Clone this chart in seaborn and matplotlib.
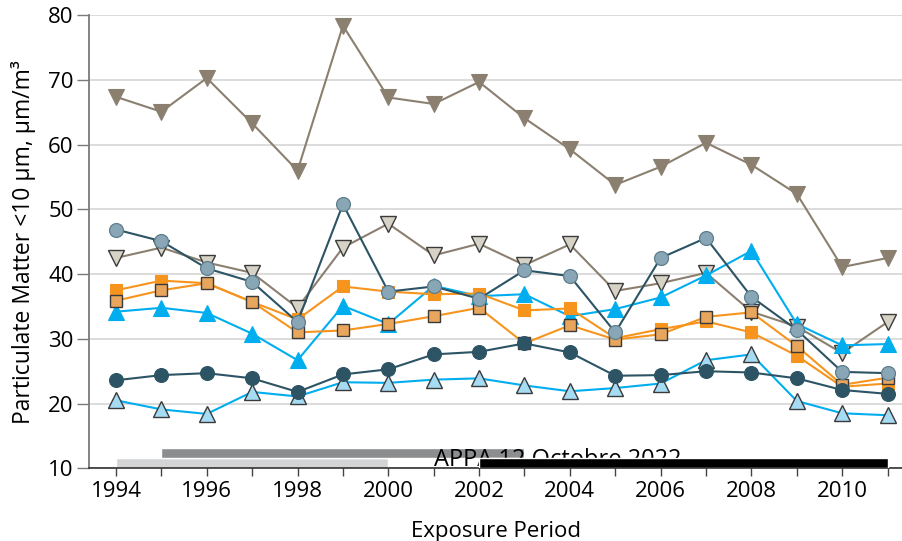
import matplotlib
matplotlib.use("Agg")
import matplotlib.pyplot as plt
import seaborn as sns

# ---- data -------------------------------------------------------------
years = list(range(1994, 2012))

pm_a = [67.4, 65.1, 70.3, 63.3, 56.0, 78.4, 67.3, 66.3, 69.7, 64.1, 59.3, 53.8,
        56.6, 60.3, 56.9, 52.4, 41.1, 42.5]
pm_b = [42.5, 44.1, 41.8, 40.2, 34.8, 44.1, 47.8, 42.9, 44.7, 41.4, 44.6, 37.4,
        38.6, 40.2, 34.2, 31.9, 27.8, 32.6]
pm_c = [46.9, 45.1, 40.9, 38.8, 32.6, 50.8, 37.3, 38.1, 36.2, 40.6, 39.7, 31.0,
        42.5, 45.6, 36.5, 31.4, 24.9, 24.7]
pm_d = [23.6, 24.4, 24.7, 23.9, 21.8, 24.5, 25.3, 27.6, 28.0, 29.3, 27.9, 24.3,
        24.4, 25.0, 24.8, 23.9, 22.1, 21.5]
pm_e = [37.5, 39.0, 38.6, 35.7, 33.0, 38.1, 37.3, 36.9, 37.0, 34.4, 34.7, 30.1,
        31.5, 32.7, 31.0, 27.4, 22.6, 23.1]
pm_f = [35.9, 37.5, 38.6, 35.7, 31.0, 31.3, 32.3, 33.5, 34.8, 29.3, 32.1, 29.9,
        30.7, 33.4, 34.1, 28.9, 22.9, 24.0]
pm_g = [34.2, 34.8, 34.0, 30.8, 26.7, 35.1, 32.3, 38.2, 36.6, 36.9, 33.5, 34.6,
        36.4, 39.8, 43.6, 32.3, 29.0, 29.2]
pm_h = [20.5, 19.1, 18.4, 21.8, 21.1, 23.3, 23.2, 23.7, 23.9, 22.8, 21.9, 22.4,
        23.1, 26.7, 27.6, 20.4, 18.5, 18.2]

# exposure windows shown along the bottom of the plot: (start, end)
window_light = (1994, 2000)
window_dark = (1995, 2003)
window_black = (2002, 2011)

xtick_labels = [str(y) if y % 2 == 0 else "" for y in years]
ytick_values = [10, 20, 30, 40, 50, 60, 70, 80]

# ---- styling ----------------------------------------------------------
sns.set_style("white")
plt.rcParams["font.family"] = ["Open Sans", "DejaVu Sans"]
plt.rcParams["text.color"] = "black"
plt.rcParams["axes.labelcolor"] = "black"
plt.rcParams["xtick.labelcolor"] = "black"
plt.rcParams["ytick.labelcolor"] = "black"

taupe = "#8b8070"
beige = "#d7d2c6"
slate = "#88a6b6"
teal = "#2c5464"
orange = "#f7941d"
tan = "#e8a55c"
sky = "#00aeef"
pale_sky = "#a5dbf3"
edge = "#3a3a3a"

series = [
    # values, line colour, marker, face, edge, edge width, size
    (pm_a, taupe, "v", taupe, taupe, 0.8, 11),
    (pm_b, taupe, "v", beige, edge, 1.0, 11),
    (pm_g, sky, "^", sky, sky, 0.8, 11),
    (pm_h, sky, "^", pale_sky, edge, 1.0, 11),
    (pm_e, orange, "s", orange, orange, 0.8, 9),
    (pm_f, orange, "s", tan, edge, 1.0, 9),
    (pm_d, teal, "o", teal, teal, 0.8, 10),
    (pm_c, teal, "o", slate, "#5f7d8b", 0.9, 10),
]

fig = plt.figure(figsize=(9.03, 5.41), dpi=100)
ax = fig.add_axes([89 / 903, 0.1344, 1 - 89 / 903, 0.8373])

for i, (vals, lc, mk, fc, ec, ew, ms) in enumerate(series):
    sns.lineplot(x=years, y=vals, ax=ax, color=lc, linewidth=1.5,
                 marker=mk, markersize=ms, markerfacecolor=fc,
                 markeredgecolor=ec, markeredgewidth=ew, zorder=5 + i)

# exposure windows
ax.barh(10.8, window_light[1] - window_light[0], left=window_light[0],
        height=1.6, color="#d3d4d6", zorder=2)
ax.barh(12.35, window_dark[1] - window_dark[0], left=window_dark[0],
        height=1.55, color="#8c8d8f", zorder=2)
ax.text(2001.0, 10.4, "APPA 12 Octobre 2022", fontsize=17, color="black",
        va="baseline", ha="left", zorder=3)
ax.barh(10.8, window_black[1] - window_black[0], left=window_black[0],
        height=1.55, color="black", zorder=4)

# axes
ax.set_xlim(1993.405, 2011.34)
ax.set_ylim(10, 80)
ax.set_xticks(years)
ax.set_xticklabels(xtick_labels)
ax.set_yticks(ytick_values)
ax.grid(axis="y", color="#dcdcdc", linewidth=1.4, zorder=0)
ax.set_axisbelow(True)

for side in ("top", "right"):
    ax.spines[side].set_visible(False)
ax.spines["left"].set_color("#7a7a7a")
ax.spines["left"].set_linewidth(1.3)
ax.spines["bottom"].set_color("#222222")
ax.spines["bottom"].set_linewidth(1.1)

ax.tick_params(axis="x", direction="out", length=6, width=1.0,
               color="#444444", labelsize=16, pad=3, bottom=True)
ax.tick_params(axis="y", direction="out", length=9, width=1.0,
               color="#7a7a7a", labelsize=16, pad=2, left=True)

ax.set_xlabel("Exposure Period", fontsize=16, labelpad=14)
ax.set_ylabel("Particulate Matter <10 µm, µm/m³", fontsize=16.5, labelpad=9)

fig.savefig("out.png", dpi=100)
